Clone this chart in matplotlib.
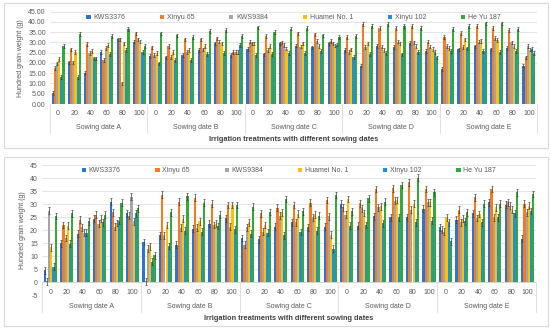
import matplotlib
matplotlib.use("Agg")
import matplotlib.pyplot as plt
import numpy as np
from matplotlib.patches import Rectangle
from matplotlib.transforms import blended_transform_factory

plt.rcParams["font.family"] = ["Liberation Sans", "DejaVu Sans"]

series = ["KWS3376", "Xinyu 65", "KWS9384", "Huamei No. 1", "Xinyu 102", "He Yu 187"]
colors = ["#2E73D2", "#F47B20", "#A5A5A5", "#FFC000", "#1E90E0", "#34A83A"]
sowing = ["Sowing date A", "Sowing date B", "Sowing date C", "Sowing date D", "Sowing date E"]
irrigation = ["0", "20", "40", "60", "80", "100"]

# upper chart, order A0..A100, B0..., E100
top_kws3376 = [5.5, 20.3, 15.3, 25.5, 31.5, 30.4, 23.5, 22.7, 23.9, 26.3, 29.5, 23.9,
               26.8, 24.2, 29.5, 28.5, 27.6, 29.5, 26.3, 18.7, 28.4, 27.9, 29.9, 26.0,
               17.0, 26.6, 28.1, 26.6, 27.4, 18.7]
top_xinyu65 = [17.4, 26.6, 29.2, 21.4, 31.5, 34.4, 27.6, 28.2, 31.5, 31.5, 32.0, 25.5,
               30.4, 33.1, 30.0, 34.4, 33.9, 30.7, 32.8, 39.0, 36.9, 36.9, 38.1, 30.4,
               32.5, 34.7, 38.0, 36.9, 36.0, 22.7]
top_kws9384 = [19.8, 20.3, 24.7, 27.4, 10.0, 31.5, 23.9, 23.0, 25.5, 26.6, 30.4, 25.5,
               29.5, 26.3, 28.7, 28.0, 30.8, 29.5, 25.5, 27.9, 28.0, 30.4, 30.0, 28.0,
               28.4, 27.9, 30.4, 32.3, 30.0, 28.4]
top_huamei = [21.8, 25.2, 26.0, 28.7, 29.5, 30.4, 25.0, 25.5, 26.3, 28.2, 29.5, 25.5,
              29.5, 28.2, 27.0, 29.5, 28.2, 28.5, 26.6, 29.5, 26.3, 29.5, 28.2, 26.8,
              27.4, 31.5, 30.8, 31.2, 28.4, 26.5]
top_xinyu102 = [13.3, 13.0, 22.2, 24.4, 26.3, 25.5, 19.8, 21.4, 21.4, 24.4, 25.0, 28.7,
                23.9, 24.4, 25.0, 25.0, 26.0, 29.0, 23.0, 24.4, 24.7, 24.2, 25.2, 25.5,
                25.8, 27.1, 26.0, 25.5, 26.0, 26.8]
top_heyu187 = [28.4, 34.1, 22.2, 33.3, 36.4, 28.4, 34.4, 33.4, 32.5, 35.5, 36.0, 33.3,
               37.3, 35.0, 36.8, 37.2, 33.4, 32.8, 33.1, 38.1, 39.0, 38.0, 36.9, 22.7,
               36.5, 38.1, 39.3, 39.3, 36.4, 24.7]

# lower chart
bot_kws3376 = [4.7, 15.0, 18.7, 24.4, 31.0, 26.5, 15.5, 18.0, 14.5, 20.6, 22.5, 24.6,
               17.0, 16.5, 21.4, 23.1, 21.2, 21.4, 30.1, 21.8, 25.3, 25.0, 25.0, 28.2,
               21.2, 24.0, 26.5, 30.7, 29.8, 16.7]
bot_xinyu65 = [0.5, 22.0, 24.1, 25.9, 26.9, 25.6, 0.5, 33.6, 31.0, 32.4, 30.1, 29.7,
               14.5, 26.5, 28.7, 29.7, 30.5, 31.6, 28.8, 30.3, 35.8, 36.0, 38.3, 35.8,
               20.2, 27.8, 32.6, 35.8, 30.7, 30.1]
bot_kws9384 = [27.5, 17.0, 21.2, 22.5, 21.4, 32.9, 12.9, 18.0, 21.0, 21.0, 22.0, 21.4,
               21.2, 19.5, 25.6, 23.1, 25.0, 25.4, 25.9, 28.4, 28.8, 31.3, 27.8, 30.7,
               19.5, 23.1, 24.7, 25.0, 29.4, 26.9]
bot_huamei = [13.5, 21.8, 19.0, 24.4, 22.8, 23.4, 13.8, 22.0, 24.4, 23.5, 22.5, 29.7,
              23.1, 22.0, 26.9, 26.3, 25.9, 18.3, 32.0, 26.6, 29.2, 31.6, 30.1, 30.7,
              25.0, 24.4, 26.2, 28.8, 27.8, 29.4]
bot_xinyu102 = [6.0, 14.8, 19.0, 23.1, 23.7, 26.5, 7.9, 14.0, 19.9, 19.5, 21.6, 20.3,
                18.7, 19.0, 18.0, 19.3, 19.9, 12.9, 21.8, 22.0, 22.7, 25.0, 23.1, 23.7,
                23.1, 23.5, 23.1, 25.0, 26.5, 27.4]
bot_heyu187 = [25.5, 26.5, 23.4, 26.0, 30.5, 28.4, 10.4, 26.9, 33.0, 30.6, 25.9, 29.7,
               29.0, 27.0, 32.0, 27.2, 25.6, 33.5, 27.3, 32.2, 31.0, 37.3, 40.2, 34.5,
               15.8, 26.9, 30.1, 30.1, 34.5, 33.9]

top_err = 0.9
bot_err = 1.3

top_data = [top_kws3376, top_xinyu65, top_kws9384, top_huamei, top_xinyu102, top_heyu187]
bot_data = [bot_kws3376, bot_xinyu65, bot_kws9384, bot_huamei, bot_xinyu102, bot_heyu187]

fig = plt.figure(figsize=(5.5, 3.29), dpi=100)

# panel frames
for y0, h in [(1 - 148/329., 145/329.), (1 - 326/329., 169/329.)]:
    fig.patches.append(Rectangle((0.007, y0), 0.99, h, transform=fig.transFigure,
                                 fill=False, edgecolor="#D9D9D9", lw=0.8))

ax1 = fig.add_axes([50/550., 1 - 104/329., 487/550., 92.3/329.])
ax2 = fig.add_axes([42/550., 1 - 295.5/329., 494/550., 130.5/329.])

ncat = len(sowing) * len(irrigation)
x = np.arange(ncat)
bw = 0.8 / len(series)
tc = "#595959"


def draw(ax, data, err, ymin, ymax, fmt, num_y, grp_y, sep_y, lab_y, sep_from, leg_y):
    for i, vals in enumerate(data):
        pos = x - 0.4 + bw * (i + 0.5)
        ax.bar(pos, vals, width=bw, color=colors[i], label=series[i], zorder=2)
        ax.errorbar(pos, vals, yerr=err, fmt="none", ecolor="#404040",
                    elinewidth=0.5, capsize=1.0, capthick=0.5, zorder=3)
    ax.set_xlim(-0.5, ncat - 0.5)
    ax.set_ylim(ymin, ymax)
    ticks = np.arange(ymin, ymax + 0.1, 5)
    ax.set_yticks(ticks)
    ax.set_yticklabels([fmt % t for t in ticks], fontsize=5, color=tc)
    ax.tick_params(axis="y", length=0, pad=3)
    ax.set_xticks([])
    ax.grid(axis="y", color="#D9D9D9", lw=0.5, zorder=0)
    for s in ax.spines.values():
        s.set_visible(False)
    ax.axhline(0, color="#BFBFBF", lw=0.6, zorder=1)
    tr = blended_transform_factory(ax.transData, ax.transAxes)
    for j in range(ncat):
        ax.text(j, num_y, irrigation[j % 6], transform=tr, fontsize=5, color=tc,
                ha="center", va="center", clip_on=False)
    for g in range(len(sowing)):
        ax.text(g * 6 + 2.5, grp_y, sowing[g], transform=tr, fontsize=5, color=tc,
                ha="center", va="center", clip_on=False)
    for g in range(len(sowing) + 1):
        ax.plot([g * 6 - 0.5] * 2, [sep_from, sep_y], transform=tr, color="#D9D9D9",
                lw=0.6, clip_on=False)
    ax.text(0.5, lab_y, "Irrigation treatments with different sowing dates",
            transform=ax.transAxes, fontsize=5.3, fontweight="bold", color="#404040",
            ha="center", va="center")
    ax.set_ylabel("Hundred grain weight (g)", fontsize=5, color=tc, labelpad=3)
    ax.legend(loc="upper center", bbox_to_anchor=(0.5, leg_y), ncol=6, frameon=False,
              fontsize=5, handlelength=0.6, handleheight=0.6, handletextpad=0.4,
              columnspacing=5.0, labelcolor=tc)


draw(ax1, top_data, top_err, 0, 45, "%.2f", -0.098, -0.26, -0.314, -0.39, 0.0, 1.04)
# lower chart: category numbers sit just above the -5 grid line
draw(ax2, bot_data, bot_err, -5, 45, "%d", 0.02, -0.086, -0.126, -0.18, 0.1, 1.03)

fig.savefig("out.png", dpi=100)
